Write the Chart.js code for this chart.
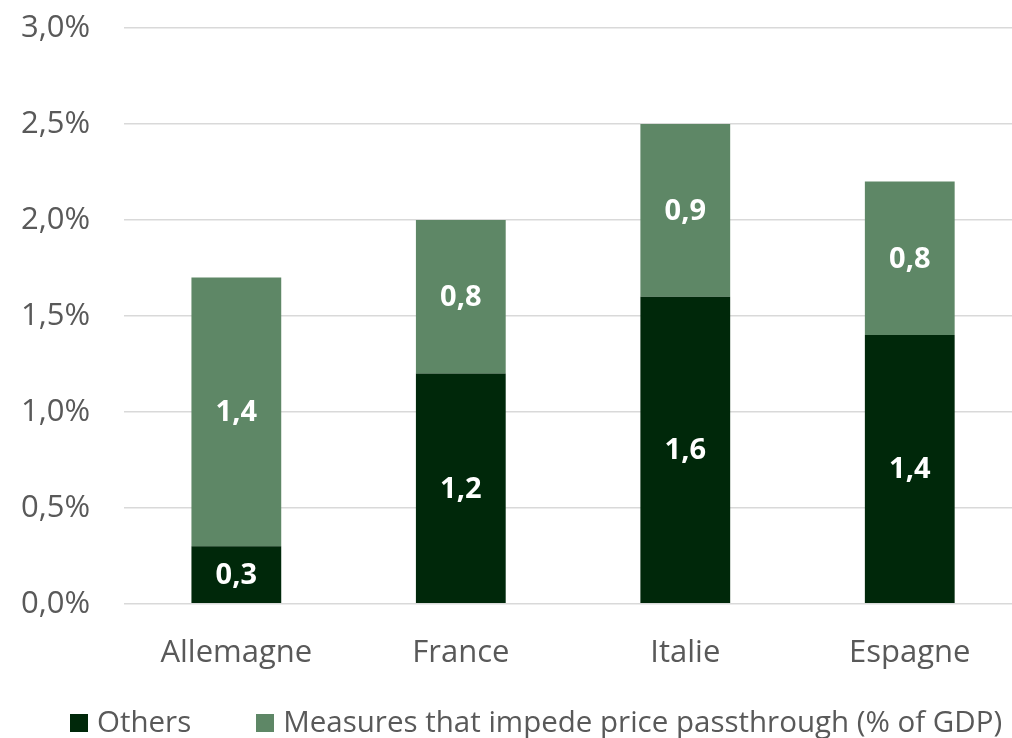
<!DOCTYPE html>
<html>
<head>
<meta charset="utf-8">
<script src="https://cdn.jsdelivr.net/npm/chart.js@4"></script>
<style>
  html, body { margin: 0; padding: 0; background: #fff; overflow: hidden; }
  #wrap { position: relative; width: 1022px; height: 738px; }
  #legend { position: absolute; left: 70px; top: 701px; display: flex; align-items: center;
            font-family: "Open Sans"; font-size: 29.5px; color: #595959; line-height: 40px; white-space: nowrap; }
  #legend .box { width: 18px; height: 18px; margin-right: 9px; margin-top: 3px; }
  #legend .item { display: flex; align-items: center; }
</style>
</head>
<body>
<div id="wrap">
  <canvas id="chart"></canvas>
  <div id="legend"></div>
</div>
<script>
const countries = ['Allemagne', 'France', 'Italie', 'Espagne'];
const others = [0.3, 1.2, 1.6, 1.4];
const measures = [1.4, 0.8, 0.9, 0.8];
const seriesNames = ['Others', 'Measures that impede price passthrough (% of GDP)'];
const colors = ['#00280a', '#5e8766'];

const fmt = v => v.toFixed(1).replace('.', ',');

// draws the value in the middle of each segment
const segmentLabels = {
    id: 'segmentLabels',
    afterDatasetsDraw(chart) {
        const ctx = chart.ctx;
        ctx.save();
        ctx.fillStyle = '#ffffff';
        ctx.font = 'bold 29px "Open Sans"';
        ctx.textAlign = 'center';
        ctx.textBaseline = 'middle';
        chart.data.datasets.forEach((ds, i) => {
            chart.getDatasetMeta(i).data.forEach((bar, j) => {
                const mid = (bar.y + bar.base) / 2;
                ctx.fillText(fmt(ds.data[j]), bar.x, mid + 1);
            });
        });
        ctx.restore();
    }
};

// legend as plain html
const legend = document.getElementById('legend');
seriesNames.forEach((name, i) => {
    const item = document.createElement('div');
    item.className = 'item';
    if (i > 0) item.style.marginLeft = '65px';
    item.innerHTML = '<div class="box" style="background:' + colors[i] + '"></div><span>' + name + '</span>';
    legend.appendChild(item);
});

const ctx = document.getElementById('chart').getContext('2d');
new Chart(ctx, {
    type: 'bar',
    data: {
        labels: countries,
        datasets: [
            { label: seriesNames[0], data: others, backgroundColor: colors[0] },
            { label: seriesNames[1], data: measures, backgroundColor: colors[1] }
        ]
    },
    options: {
        responsive: true,
        maintainAspectRatio: false,
        animation: false,
        layout: { padding: { top: 28, left: -13, right: 0, bottom: 43 } },
        datasets: { bar: { barPercentage: 0.4, categoryPercentage: 1 } },
        scales: {
            x: {
                stacked: true,
                grid: { display: false },
                border: { display: false },
                ticks: { color: '#595959', font: { family: 'Open Sans', size: 31 }, padding: 23 }
            },
            y: {
                stacked: true,
                min: 0,
                max: 3,
                grid: { color: '#d9d9d9', lineWidth: 1.5, drawTicks: false },
                border: { display: false },
                ticks: {
                    stepSize: 0.5,
                    color: '#595959',
                    padding: 34,
                    font: { family: 'Open Sans', size: 31 },
                    callback: v => fmt(v) + '%'
                },
                // tick padding would otherwise push the plot down
                afterFit: scale => { scale.paddingTop = 0; scale.paddingBottom = 0; }
            }
        },
        plugins: {
            tooltip: { enabled: false },
            legend: { display: false }
        }
    },
    plugins: [segmentLabels]
});
</script>
</body>
</html>
